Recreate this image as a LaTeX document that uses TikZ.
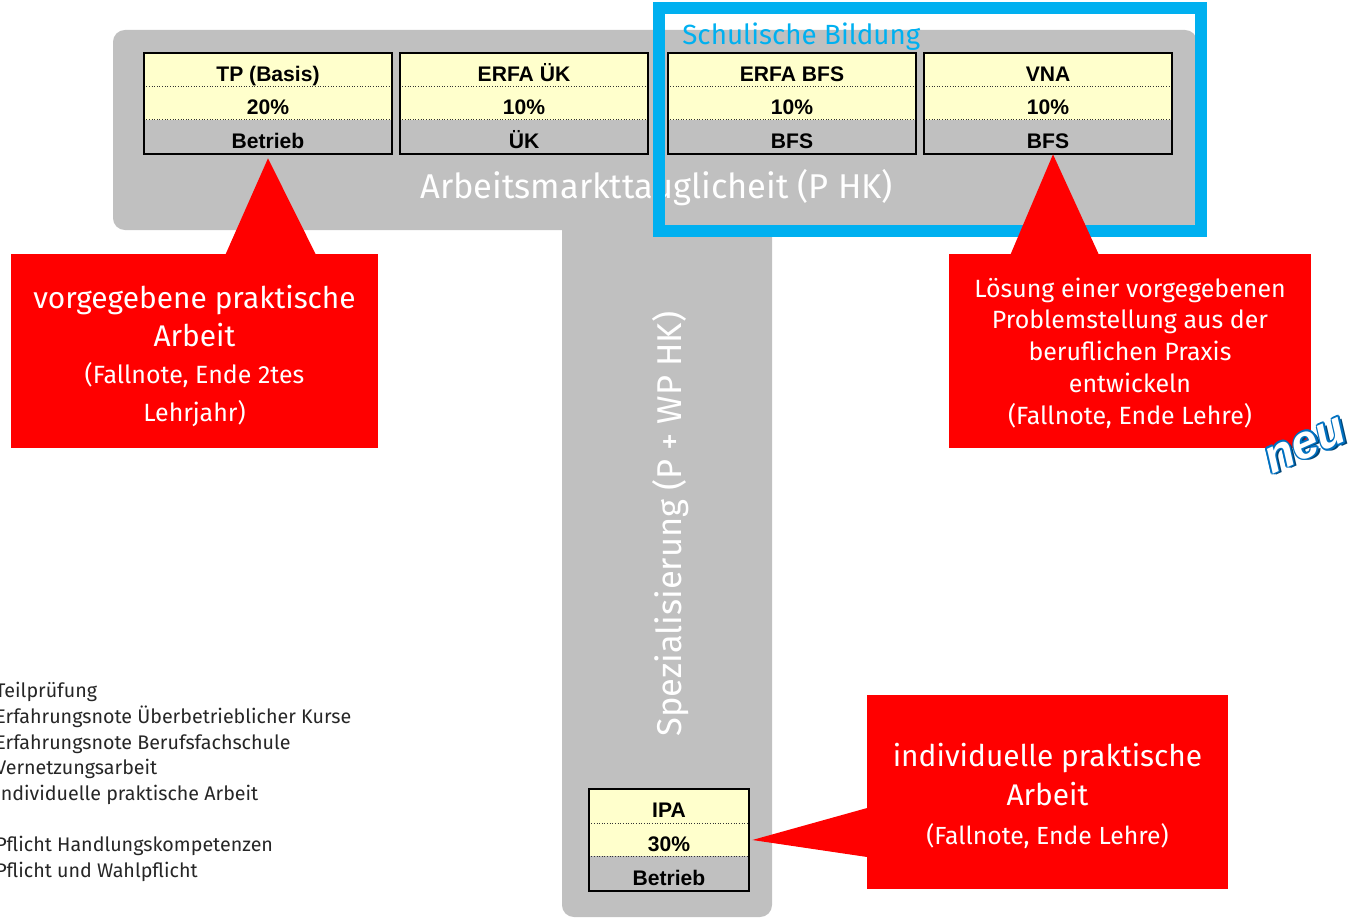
\documentclass[tikz,border=0pt]{standalone}
\usepackage{fontspec}
\setmainfont{Fira Sans}
\newfontfamily\arialfont{Liberation Sans}
\usetikzlibrary{calc}
\definecolor{tgray}{HTML}{C0C0C0}
\definecolor{yel}{HTML}{FFFFCC}
\definecolor{cyanb}{HTML}{00B0F0}
\definecolor{redc}{HTML}{FF0000}
\definecolor{neublue}{HTML}{0070C0}
\tikzset{
  sbox/.style={inner sep=0pt, minimum height=0.02cm*101},
  btext/.style={font=\arialfont\bfseries\fontsize{12pt}{14pt}\selectfont, inner sep=0pt, anchor=base},
  callout/.style={fill=redc, inner sep=0pt, text=white, align=center},
  bigw/.style={text=white, font=\fontsize{19.6pt}{22pt}\selectfont, inner sep=0pt},
}
\newcommand{\scorebox}[7]{%
  \node[sbox, minimum width=0.02cm*#4] (#1) at (#2,#3) {};
  \fill[yel] (#1.north west) rectangle ($(#1.north east)+(0,67)$);
  \fill[tgray] ($(#1.north west)+(0,67)$) rectangle (#1.south east);
  \draw[densely dotted, black!80, line width=0.5pt] ($(#1.north west)+(0,34)$) -- ($(#1.north east)+(0,34)$);
  \draw[densely dotted, black!80, line width=0.5pt] ($(#1.north west)+(0,67)$) -- ($(#1.north east)+(0,67)$);
  \draw[line width=1.2pt] (#1.north west) rectangle (#1.south east);
  \node[btext] (#1-t) at ($(#1.north)+(0,28.5)$) {#5};
  \node[btext] (#1-p) at ($(#1.north)+(0,62)$) {#6};
  \node[btext] (#1-o) at ($(#1.north)+(0,96)$) {#7};
}
\newcommand{\shiftcopy}[3]{\makebox[0pt]{\hspace*{#1}\raisebox{#2}{#3}}}
\begin{document}
\begin{tikzpicture}[x=0.02cm,y=-0.02cm]
\useasboundingbox (0,0) rectangle (1350,919);
% gray T shape
\fill[tgray, rounded corners=6.8pt] (113,30) rectangle (1197,230);
\fill[tgray, rounded corners=6.8pt] (562,120) rectangle (772,917);
\node[bigw, anchor=base west] (amt) at (420,198) {Arbeitsmarkttauglicheit (P HK)};
\node[bigw, rotate=90, anchor=base] (spez) at (681,524) {Spezialisierung (P + WP HK)};
% score boxes
\scorebox{tp}{268}{103.5}{248}{TP (Basis)}{20\%}{Betrieb}
\scorebox{uek}{524}{103.5}{248}{ERFA ÜK}{10\%}{ÜK}
\scorebox{bfs}{792}{103.5}{248}{ERFA BFS}{10\%}{BFS}
\scorebox{vna}{1048}{103.5}{248}{VNA}{10\%}{BFS}
\scorebox{ipa}{669}{840}{160}{IPA}{30\%}{Betrieb}
% blue frame
\draw[cyanb, line width=6.3pt] (659,8) rectangle (1201,231);
\node[text=cyanb, font=\fontsize{15.8pt}{18pt}\selectfont, anchor=base west, inner sep=0pt] (sb) at (682,45) {Schulische Bildung};
% callouts
\node[callout, minimum width=0.02cm*367, minimum height=0.02cm*194] (c1) at (194.5,351) {};
\node[text=white, align=center, inner sep=0pt, font=\fontsize{17pt}{21.5pt}\selectfont] (c1t) at (194.5,356) {vorgegebene praktische\\Arbeit\\{\fontsize{14.2pt}{18pt}\selectfont (Fallnote, Ende 2tes}\\{\fontsize{14.2pt}{18pt}\selectfont Lehrjahr)}};
\fill[redc] ($(c1.north west)+(215,0.5)$) -- ($(tp.south)+(0,4)$) -- ($(c1.north west)+(305,0.5)$) -- cycle;

\node[callout, minimum width=0.02cm*362, minimum height=0.02cm*194] (c2) at (1130,351) {};
\node[text=white, align=center, inner sep=0pt, font=\fontsize{14.2pt}{18.1pt}\selectfont] (c2t) at (1130,353) {Lösung einer vorgegebenen\\Problemstellung aus der\\beruflichen Praxis\\entwickeln\\(Fallnote, Ende Lehre)};
\fill[redc] ($(c2.north west)+(62,0.5)$) -- ($(vna.south)+(5,0)$) -- ($(c2.north west)+(150,0.5)$) -- cycle;

\node[callout, minimum width=0.02cm*361, minimum height=0.02cm*194] (c3) at (1047.5,792) {};
\node[text=white, align=center, inner sep=0pt, font=\fontsize{17pt}{22pt}\selectfont] (c3t) at (1047.5,796) {individuelle praktische\\Arbeit\\{\fontsize{14.1pt}{18pt}\selectfont (Fallnote, Ende Lehre)}};
\fill[redc] ($(c3.west)+(0.5,16)$) -- ($(ipa.east)+(3,0)$) -- ($(c3.west)+(0.5,65)$) -- cycle;

% neu
\node[rotate=24, font=\arialfont\fontsize{27pt}{27pt}\selectfont\bfseries\itshape, inner sep=0pt] (neu) at (1306,446) {%
\shiftcopy{3pt}{-1.6pt}{\color{neublue!60!black}neu}%
\shiftcopy{2pt}{0pt}{\color{neublue}neu}\shiftcopy{-2pt}{0pt}{\color{neublue}neu}%
\shiftcopy{0pt}{1pt}{\color{neublue}neu}\shiftcopy{0pt}{-1pt}{\color{neublue}neu}%
\shiftcopy{1.4pt}{0.7pt}{\color{neublue}neu}\shiftcopy{-1.4pt}{0.7pt}{\color{neublue}neu}%
\shiftcopy{1.4pt}{-0.7pt}{\color{neublue}neu}\shiftcopy{-1.4pt}{-0.7pt}{\color{neublue}neu}%
\shiftcopy{0pt}{0pt}{\color{white}neu}};

% legend
\node[anchor=north west, align=left, inner sep=0pt, text=black!85, font=\fontsize{11.2pt}{14.6pt}\selectfont] (leg) at (-5,682) {Teilprüfung\\Erfahrungsnote Überbetrieblicher Kurse\\Erfahrungsnote Berufsfachschule\\Vernetzungsarbeit\\individuelle praktische Arbeit\\\mbox{}\\Pflicht Handlungskompetenzen\\Pflicht und Wahlpflicht};
\end{tikzpicture}
\end{document}
